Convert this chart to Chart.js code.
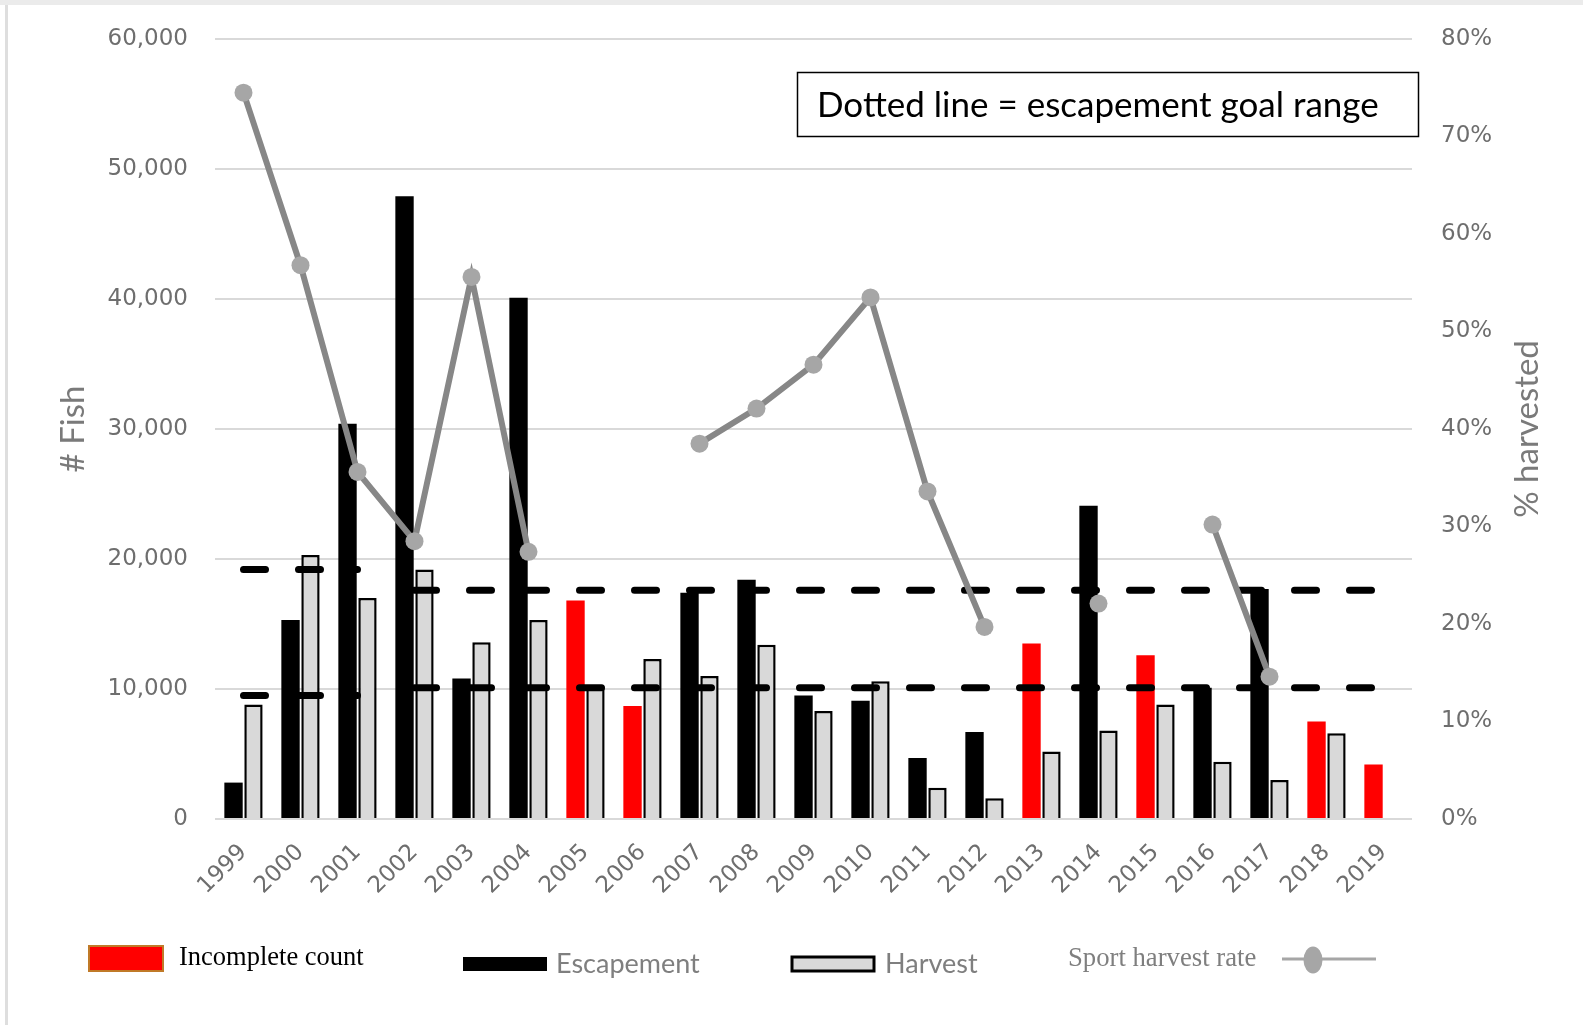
<!DOCTYPE html>
<html>
<head>
<meta charset="utf-8">
<script src="https://cdn.jsdelivr.net/npm/chart.js@4.4.1/dist/chart.umd.min.js"></script>
<style>
  html, body { margin: 0; padding: 0; background: #fff; }
  #wrap { position: relative; width: 1583px; height: 1025px; }
</style>
</head>
<body>
<div id="wrap"><canvas id="chart"></canvas></div>
<script>
// Datos
const years = ['1999', '2000', '2001', '2002', '2003', '2004', '2005', '2006', '2007', '2008', '2009',
  '2010', '2011', '2012', '2013', '2014', '2015', '2016', '2017', '2018', '2019'];
const escapement = [2800, 15300, 30400, 47900, 10800, 40100, 16800, 8700, 17400, 18400, 9500,
  9100, 4700, 6700, 13500, 24100, 12600, 10100, 17700, 7500, 4200];
const harvest = [8800, 20300, 17000, 19200, 13600, 15300, 10100, 12300, 11000, 13400, 8300,
  10600, 2400, 1600, 5200, 6800, 8800, 4400, 3000, 6600, null];
const incompleteYears = ['2005', '2006', '2013', '2015', '2018', '2019'];
const harvestRate = [0.745, 0.568, 0.356, 0.285, 0.556, 0.274, null, null, 0.385, 0.421, 0.466,
  0.535, 0.336, 0.197, null, 0.221, null, 0.302, 0.146, null, null];

// escapement goal range (lower, upper)
const goalEarlyYears = ['1999', '2000', '2001'];
const goalEarly = [9500, 19200];
const goalLate = [10100, 17600];

const fishTicks = [0, 10000, 20000, 30000, 40000, 50000, 60000];
const rateTicks = [0, 0.1, 0.2, 0.3, 0.4, 0.5, 0.6, 0.7, 0.8];

const GREY_TXT = '#6e6e6e';

function goalLine(values, idx, early) {
  return years.map(y => (goalEarlyYears.includes(y) === early ? values[idx] : null));
}

function dashed(data) {
  return {
    type: 'line',
    data: data,
    borderColor: '#000',
    borderWidth: 7,
    borderDash: [22, 33],
    borderCapStyle: 'round',
    pointRadius: 0,
    fill: false,
    spanGaps: false,
    order: 1
  };
}

// cosas dibujadas a mano: marco, titulos, caja y leyenda
const extras = {
  id: 'extras',
  beforeDraw(chart) {
    const c = chart.ctx;
    c.save();
    c.fillStyle = '#ebebeb';
    c.fillRect(0, 0, chart.width, 5);
    c.fillStyle = '#dedede';
    c.fillRect(5, 5, 3, chart.height - 5);
    c.restore();
  },
  afterDraw(chart) {
    const c = chart.ctx;
    const a = chart.chartArea;
    const midY = (a.top + a.bottom) / 2;
    c.save();

    // titulos de ejes
    c.fillStyle = '#7a7a7a';
    c.font = '33px Lato';
    c.textAlign = 'center';
    c.textBaseline = 'middle';
    c.save();
    c.translate(73, midY);
    c.rotate(-Math.PI / 2);
    c.fillText('# Fish', 0, 0);
    c.restore();
    c.save();
    c.translate(1527, midY);
    c.rotate(-Math.PI / 2);
    c.fillText('% harvested', 0, 0);
    c.restore();

    // caja de nota
    c.strokeStyle = '#000';
    c.lineWidth = 1.5;
    c.strokeRect(797.5, 72.5, 621, 64);
    c.fillStyle = '#000';
    c.textAlign = 'left';
    c.font = '35px Lato';
    c.fillText('Dotted line = escapement goal range', 817, 106);

    // leyenda
    c.fillStyle = '#ff0000';
    c.fillRect(89, 946, 74, 25);
    c.strokeStyle = '#c07a28';
    c.lineWidth = 2;
    c.strokeRect(89, 946, 74, 25);
    c.fillStyle = '#000';
    c.font = '26.5px "Liberation Serif"';
    c.fillText('Incomplete count', 179, 958);

    c.fillStyle = '#000';
    c.fillRect(463, 957, 84, 14);
    c.fillStyle = '#7f7f7f';
    c.font = '27px Lato';
    c.fillText('Escapement', 556, 964);

    c.fillStyle = '#d9d9d9';
    c.fillRect(792, 957, 82, 14);
    c.strokeStyle = '#000';
    c.lineWidth = 3;
    c.strokeRect(792, 957, 82, 14);
    c.fillStyle = '#7f7f7f';
    c.fillText('Harvest', 885, 964);

    c.font = '26.7px "Liberation Serif"';
    c.fillText('Sport harvest rate', 1068, 959);
    c.strokeStyle = '#a6a6a6';
    c.lineWidth = 3;
    c.beginPath();
    c.moveTo(1282, 959);
    c.lineTo(1376, 959);
    c.stroke();
    c.fillStyle = '#a6a6a6';
    c.beginPath();
    c.ellipse(1313, 960, 9.5, 13.5, 0, 0, Math.PI * 2);
    c.fill();

    c.restore();
  }
};

new Chart(document.getElementById('chart'), {
  type: 'bar',
  data: {
    labels: years,
    datasets: [
      {
        type: 'line',
        label: 'Sport harvest rate',
        data: harvestRate,
        yAxisID: 'y1',
        borderColor: '#878787',
        borderWidth: 6,
        pointRadius: 9,
        pointBackgroundColor: '#a6a6a6',
        pointBorderWidth: 0,
        spanGaps: false,
        order: 0
      },
      dashed(goalLine(goalEarly, 0, true)),
      dashed(goalLine(goalEarly, 1, true)),
      dashed(goalLine(goalLate, 0, false)),
      dashed(goalLine(goalLate, 1, false)),
      {
        label: 'Escapement',
        data: escapement,
        backgroundColor: years.map(y => (incompleteYears.includes(y) ? '#ff0000' : '#000000')),
        borderWidth: 0,
        order: 2
      },
      {
        label: 'Harvest',
        data: harvest,
        backgroundColor: '#d9d9d9',
        borderColor: '#000000',
        borderWidth: 2.5,
        order: 2
      }
    ]
  },
  options: {
    responsive: true,
    maintainAspectRatio: false,
    animation: false,
    events: [],
    layout: { padding: { top: 39, left: 0, right: 0, bottom: 0 } },
    datasets: { bar: { categoryPercentage: 0.7, barPercentage: 0.92 } },
    plugins: { legend: { display: false }, tooltip: { enabled: false } },
    scales: {
      x: {
        grid: { display: false },
        border: { display: false },
        ticks: {
          minRotation: 45, maxRotation: 45, padding: 12,
          color: GREY_TXT, font: { family: 'DejaVu Sans', size: 23 }
        },
        afterFit(s) { s.height = 206; }
      },
      y: {
        min: 0, max: 60000,
        afterBuildTicks(s) { s.ticks = fishTicks.map(v => ({ value: v })); },
        ticks: {
          padding: 2, color: GREY_TXT, font: { family: 'DejaVu Sans', size: 23 },
          callback: v => v.toLocaleString('en-US')
        },
        grid: { color: '#d9d9d9', lineWidth: 2, drawTicks: true, tickLength: 25, tickColor: 'rgba(0,0,0,0)' },
        border: { display: false },
        afterFit(s) { s.width = 215; }
      },
      y1: {
        position: 'right',
        min: 0, max: 0.8,
        afterBuildTicks(s) { s.ticks = rateTicks.map(v => ({ value: v })); },
        ticks: {
          padding: 2, color: GREY_TXT, font: { family: 'DejaVu Sans', size: 23 },
          callback: v => Math.round(v * 100) + '%'
        },
        grid: { drawOnChartArea: false, drawTicks: true, tickLength: 27, tickColor: 'rgba(0,0,0,0)' },
        border: { display: false },
        afterFit(s) { s.width = 171; }
      }
    }
  },
  plugins: [extras]
});
</script>
</body>
</html>
